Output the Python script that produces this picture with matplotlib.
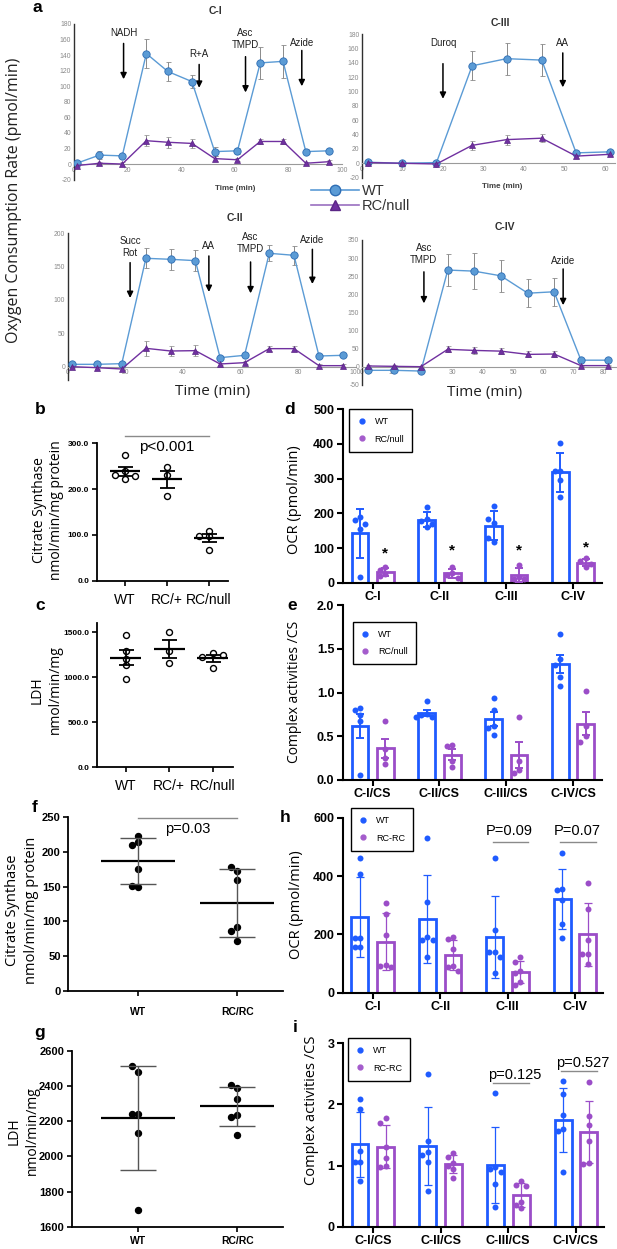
import numpy as np
import matplotlib
matplotlib.use("Agg")
import matplotlib.pyplot as plt
from matplotlib.lines import Line2D

plt.rcParams['font.family'] = ['Liberation Sans', 'DejaVu Sans']
plt.rcParams['axes.unicode_minus'] = False

W, H = 617, 1249

# ---------------- panel a : oxygen consumption traces ----------------
ci_t = [1, 9.5, 18, 27, 35, 44, 52.5, 61, 69.5, 78, 86.5, 95]
ci_wt = [1, 11.5, 10.5, 142, 119, 106, 16, 17, 130, 132, 16, 17]
ci_wt_err = [3, 5, 3, 19, 12, 8, 6, 4, 21, 21, 3, 3]
ci_rc = [-2, 1, 0, 30, 28, 26.5, 7, 5.5, 29, 29, 1, 3]
ci_rc_err = [2, 2, 2, 7, 7, 6, 3, 2, 3, 3, 2, 2]

ciii_t = [1.4, 10, 18.4, 27.2, 35.7, 44.4, 52.9, 61.3]
ciii_wt = [1.5, 0, 1, 136, 146, 144, 14.5, 16]
ciii_wt_err = [2, 2, 2, 20, 22.5, 22, 2, 2]
ciii_rc = [1, 0, -1, 25, 33, 35, 10, 12.5]
ciii_rc_err = [2, 2, 2, 6, 7, 6, 2, 2]

cii_t = [1.3, 10, 18.7, 27.1, 35.7, 44.3, 52.9, 61.4, 70, 78.6, 87.3, 95.5]
cii_wt = [3.5, 3.5, 4.5, 162.5, 161, 159, 13.5, 17, 170, 167, 16, 17]
cii_wt_err = [2, 2, 2, 15, 16, 16, 3, 3, 12, 14, 3, 3]
cii_rc = [0, -1.5, -3.5, 27.5, 23.5, 24, 4, 6, 27, 27, 1.5, 1.5]
cii_rc_err = [2, 2, 2, 11, 8, 8, 2, 2, 4, 4, 2, 2]

civ_t = [1.9, 10.7, 19.5, 28.4, 37.1, 46, 54.9, 63.6, 72.5, 81.4]
civ_wt = [-10, -10, -12, 267, 264, 251, 203, 207, 18, 18]
civ_wt_err = [3, 3, 3, 43, 50, 44, 38, 39, 3, 3]
civ_rc = [2, 1, 0, 48, 45, 43, 34, 35, 3, 3]
civ_rc_err = [3, 3, 3, 8, 9, 8, 8, 7, 2, 2]

# injections: label, x, arrow top, arrow tip, label y
ci_arrows = [("NADH", 18.5, 155, 109, 168), ("R+A", 46.7, 128, 98, 141),
             ("Asc\nTMPD", 64, 138, 92, 161), ("Azide", 85, 146, 100, 155)]
ciii_arrows = [("Duroq", 20, 139, 90, 168), ("AA", 49.6, 154, 106, 168)]
cii_arrows = [("Succ\nRot", 21.6, 156, 103, 180), ("AA", 49, 166, 112, 181),
              ("Asc\nTMPD", 63.5, 157, 110, 185), ("Azide", 85, 176, 124, 190)]
civ_arrows = [("Asc\nTMPD", 20.5, 262, 175, 311), ("Azide", 66.6, 270, 170, 292)]

# ---------------- panels b, c : CS / LDH (RC/+ cross) ----------------
b_groups = ["WT", "RC/+", "RC/null"]
b_wt = [274, 240, 221, 231, 228]
b_het = [248, 231, 185]
b_null = [109, 97, 98, 67]
c_wt = [1475, 1290, 1205, 1139, 984]
c_het = [1500, 1290, 1161]
c_null = [1265, 1230, 1250, 1100]

# ---------------- panels d, e : OCR and complex/CS ----------------
cx = ["C-I", "C-II", "C-III", "C-IV"]
cx_cs = ["C-I/CS", "C-II/CS", "C-III/CS", "C-IV/CS"]
d_wt = [[190, 181, 155, 169, 17], [217, 185, 178, 170, 160],
        [222, 173, 183, 118, 128], [402, 323, 323, 296, 246]]
d_rc = [[45, 38, 25, 18], [44, 27, 22, 14], [51, 17, 12, 10], [70, 62, 55, 45]]
d_star = [85, 92, 92, 102]
e_wt = [[0.82, 0.80, 0.74, 0.67, 0.06], [0.90, 0.76, 0.74, 0.72, 0.72],
        [0.94, 0.80, 0.62, 0.60, 0.52], [1.67, 1.38, 1.32, 1.18, 1.07]]
e_rc = [[0.67, 0.35, 0.25, 0.18], [0.40, 0.39, 0.22, 0.15],
        [0.72, 0.22, 0.12, 0.08], [1.02, 0.62, 0.50, 0.44]]

# ---------------- panels f, g : CS / LDH (RC/RC) ----------------
f_groups = ["WT", "RC/RC"]
f_wt = [223, 214, 210, 175, 149, 151]
f_rc = [173, 178, 160, 92, 86, 71]
g_wt = [2480, 2512, 2242, 2242, 2132, 1695]
g_rc = [2392, 2407, 2328, 2236, 2223, 2122]

# ---------------- panels h, i : OCR and complex/CS (RC-RC) ----------------
h_wt = [[463, 407, 186, 186, 158, 158], [531, 310, 192, 181, 181, 121],
        [463, 215, 140, 140, 121, 66], [480, 357, 352, 317, 234, 186]]
h_rc = [[306, 270, 198, 95, 90, 88], [192, 183, 149, 92, 87, 75],
        [122, 104, 75, 66, 38, 25], [375, 287, 181, 132, 132, 98]]
i_wt = [[2.085, 1.92, 1.244, 1.054, 1.054, 0.748], [2.5, 1.41, 1.22, 1.17, 1.06, 0.59],
        [2.18, 0.98, 0.95, 0.90, 0.70, 0.33], [2.38, 2.17, 1.83, 1.60, 1.57, 0.89]]
i_rc = [[1.77, 1.69, 1.30, 1.12, 1.00, 0.98], [1.21, 1.14, 1.05, 1.00, 0.95, 0.80],
        [0.74, 0.68, 0.66, 0.40, 0.35, 0.30], [2.36, 1.81, 1.67, 1.40, 1.05, 1.03]]
h_pvals = [("P=0.09", 2, 516, 555), ("P=0.07", 3, 516, 555)]
i_pvals = [("p=0.125", 2, 2.35, 2.48), ("p=0.527", 3, 2.55, 2.68)]

A_WT = '#5B9BD5'
A_RC = '#7030A0'
WT_C = '#1F5BFF'
RC_C = '#9B4DC8'

fig = plt.figure(figsize=(W / 100, H / 100), dpi=100)


def rect(l, t, r, b):
    return [l / W, 1 - b / H, (r - l) / W, (b - t) / H]


def ftext(x, y, s, **kw):
    kw.setdefault('ha', 'center')
    kw.setdefault('va', 'center')
    fig.text(x / W, 1 - y / H, s, **kw)


def swarm(vals, gap, step):
    placed, offs = [], []
    for v in vals:
        for k in [0, -1, 1, -2, 2, -3, 3]:
            if all(abs(v - pv) >= gap or k != pk for pv, pk in placed):
                break
        placed.append((v, k))
        offs.append(k * step)
    return np.array(offs)


def oxy_panel(box, t, wt, wt_err, rc, rc_err, xlim, ylim, xstep, ystep, arrows):
    ax = fig.add_axes(rect(*box))
    ax.patch.set_alpha(0)
    ax.errorbar(t, wt, yerr=wt_err, color=A_WT, lw=1.0, marker='o', ms=5.3,
                mfc=A_WT, mec='#2E6DB4', mew=0.6, ecolor='#8a8a8a',
                elinewidth=0.7, capsize=1.8, capthick=0.7, zorder=3)
    ax.errorbar(t, rc, yerr=rc_err, color=A_RC, lw=1.0, marker='^', ms=5.0,
                mfc=A_RC, mec='#5a2685', mew=0.5, ecolor='#8a8a8a',
                elinewidth=0.7, capsize=1.8, capthick=0.7, zorder=3)
    ax.set_xlim(xlim)
    ax.set_ylim(ylim)
    for s in ('top', 'right'):
        ax.spines[s].set_visible(False)
    ax.spines['bottom'].set_position(('data', 0))
    ax.spines['bottom'].set_color('#9a9a9a')
    ax.spines['left'].set_color('#303030')
    ax.spines['left'].set_linewidth(1.0)
    ax.set_xticks(np.arange(0, xlim[1] + 0.1, xstep))
    ax.set_yticks(np.arange(ylim[0], ylim[1] + 0.1, ystep))
    ax.tick_params(length=0, labelsize=4.9, labelcolor='#8a8a8a', pad=2)
    for lab, x, y0, y1, ty in arrows:
        ax.annotate('', xy=(x, y1), xytext=(x, y0),
                    arrowprops=dict(arrowstyle='-|>', color='black', lw=1.1,
                                    mutation_scale=9, shrinkA=0, shrinkB=0))
        ax.text(x, ty, lab, ha='center', va='center', fontsize=7,
                linespacing=1.25, color='#202020')
    return ax


ax_ci = oxy_panel((74, 24, 342, 179.6), ci_t, ci_wt, ci_wt_err, ci_rc, ci_rc_err,
                  (0, 100), (-20, 180), 20, 20, ci_arrows)
ax_ciii = oxy_panel((362, 34.3, 615, 177.6), ciii_t, ciii_wt, ciii_wt_err, ciii_rc, ciii_rc_err,
                    (0, 62.5), (-20, 180), 10, 20, ciii_arrows)
ax_cii = oxy_panel((68, 233.3, 355.5, 380), cii_t, cii_wt, cii_wt_err, cii_rc, cii_rc_err,
                   (0, 100), (-20, 200), 20, 50, cii_arrows)
ax_cii.set_yticks([0, 50, 100, 150, 200])
ax_civ = oxy_panel((362, 240, 615.7, 384.8), civ_t, civ_wt, civ_wt_err, civ_rc, civ_rc_err,
                   (0, 84), (-50, 350), 10, 50, civ_arrows)

ftext(215, 11, "C-I", fontsize=7.5, weight='bold', color='#303030')
ftext(500, 23, "C-III", fontsize=7.5, weight='bold', color='#303030')
ftext(235, 218, "C-II", fontsize=7.5, weight='bold', color='#303030')
ftext(505, 227, "C-IV", fontsize=7.5, weight='bold', color='#303030')
ftext(235, 189, "Time (min)", fontsize=5.8, weight='bold', color='#404040')
ftext(502, 187, "Time (min)", fontsize=5.8, weight='bold', color='#404040')
ftext(213, 392, "Time (min)", fontsize=11, family='Open Sans', color='#202020')
ftext(485, 393, "Time (min)", fontsize=11, family='Open Sans', color='#202020')
ftext(14, 200, "Oxygen Consumption Rate (pmol/min)", fontsize=11.5, rotation=90,
      family='Open Sans', color='#202020')

h_wt_leg = Line2D([], [], color=A_WT, lw=1.2, marker='o', ms=7.5, mfc=A_WT, mec='#2E6DB4')
h_rc_leg = Line2D([], [], color='#9a70c0', lw=1.2, marker='^', ms=7.5, mfc=A_RC, mec='#5a2685')
leg_a = fig.legend([h_wt_leg, h_rc_leg], ["WT", "RC/null"], loc='upper left',
                   bbox_to_anchor=(311 / W, 1 - 184 / H), frameon=False, fontsize=10.5,
                   handlelength=3.3, handletextpad=0.2, labelspacing=0.05,
                   borderaxespad=0, borderpad=0)
for t in leg_a.get_texts():
    t.set_color('#333333')


# ---------------- scatter panels ----------------
def dot_panel(box, groups, names, xlim, ylim, yticks, ylabels, err, hollow,
              mean_half, cap_pt, gap, step, tick_fs, xlab_fs, xbold, ecol, elw, xpad):
    ax = fig.add_axes(rect(*box))
    for i, vals in enumerate(groups):
        v = np.array(vals, float)
        x = i + 1
        m = v.mean()
        e = v.std(ddof=1) if err == 'sd' else v.std(ddof=1) / np.sqrt(len(v))
        ax.plot(x + swarm(v, gap, step), v, 'o', ms=4.3,
                mfc='none' if hollow else 'black', mec='black', mew=1.0, zorder=3)
        ax.hlines(m, x - mean_half, x + mean_half, color='black', lw=1.6, zorder=4)
        ax.errorbar(x, m, yerr=e, color=ecol, lw=elw, capsize=cap_pt, capthick=elw, zorder=4)
    ax.set_xlim(xlim)
    ax.set_ylim(ylim)
    for s in ('top', 'right'):
        ax.spines[s].set_visible(False)
    for s in ('left', 'bottom'):
        ax.spines[s].set_linewidth(1.3)
    ax.set_yticks(yticks)
    ax.set_yticklabels(ylabels, fontsize=tick_fs, weight='bold')
    ax.set_xticks(range(1, len(groups) + 1))
    ax.set_xticklabels(names, fontsize=xlab_fs, weight='bold' if xbold else 'normal')
    ax.tick_params(direction='out', length=3.5, width=1.2, pad=2)
    ax.tick_params(axis='x', pad=xpad)
    return ax


ax_b = dot_panel((96.7, 443.3, 228, 580.7), [b_wt, b_het, b_null], b_groups, (0.33, 3.45),
                 (0, 300), [0, 100, 200, 300], ["0.0", "100.0", "200.0", "300.0"], 'sem', True,
                 0.36, 5.4, 11, 0.24, 6, 10, False, 'black', 1.3, 5)
ax_b.plot([1, 3], [316, 316], color='#8a8a8a', lw=1, clip_on=False)
ax_b.text(2, 292, "p<0.001", ha='center', va='center', fontsize=11)

ax_c = dot_panel((96.7, 623.3, 233, 767.3), [c_wt, c_het, c_null], b_groups, (0.33, 3.47),
                 (0, 1600), [0, 500, 1000, 1500], ["0.0", "500.0", "1000.0", "1500.0"], 'sem', True,
                 0.36, 5.4, 60, 0.24, 6, 10, False, 'black', 1.3, 5)

ax_f = dot_panel((68.3, 817.3, 283.3, 990.7), [f_wt, f_rc], f_groups, (0.293, 2.465),
                 (0, 250), [0, 50, 100, 150, 200, 250], ["0", "50", "100", "150", "200", "250"], 'sd', False,
                 0.374, 13, 8.5, 0.063, 8, 7.5, True, '#555555', 1.0, 8)
ax_f.plot([1, 2], [249, 249], color='#8a8a8a', lw=1, clip_on=False)
ax_f.text(1.5, 232.6, "p=0.03", ha='center', va='center', fontsize=10.5)

ax_g = dot_panel((71.7, 1051, 283.3, 1226.7), [g_wt, g_rc], f_groups, (0.327, 2.465),
                 (1600, 2600), [1600, 1800, 2000, 2200, 2400, 2600],
                 ["1600", "1800", "2000", "2200", "2400", "2600"], 'sd', False,
                 0.374, 13, 34, 0.063, 8, 7.5, True, '#555555', 1.0, 3)


# ---------------- bar panels ----------------
def bar_panel(box, wt_groups, rc_groups, names, xlim, ylim, yticks, ylabels, err,
              leg_labels, leg_pos, gap, elw):
    ax = fig.add_axes(rect(*box))
    for i in range(len(names)):
        for vals, off, col in ((wt_groups[i], -0.19, WT_C), (rc_groups[i], 0.19, RC_C)):
            v = np.array(vals, float)
            m = v.mean()
            e = v.std(ddof=1) if err == 'sd' else v.std(ddof=1) / np.sqrt(len(v))
            ax.bar(i + off, m, width=0.25, facecolor='none', edgecolor=col, lw=2.0, zorder=2)
            ax.errorbar(i + off, m, yerr=e, color=col, lw=elw, capsize=3, capthick=elw, zorder=3)
            ax.plot(i + off + swarm(v, gap, 0.08), v, 'o', color=col, ms=4.3,
                    mec='none', zorder=4)
    ax.set_xlim(xlim)
    ax.set_ylim(ylim)
    for s in ('top', 'right'):
        ax.spines[s].set_visible(False)
    for s in ('left', 'bottom'):
        ax.spines[s].set_linewidth(1.5)
    ax.set_yticks(yticks)
    ax.set_yticklabels(ylabels, fontsize=9, weight='bold')
    ax.set_xticks(range(len(names)))
    ax.set_xticklabels(names, fontsize=9, weight='bold')
    ax.tick_params(direction='out', length=4, width=1.5, pad=2)
    handles = [Line2D([], [], ls='none', marker='o', color=WT_C, ms=3.5),
               Line2D([], [], ls='none', marker='o', color='#a45ccc', ms=3.5)]
    leg = ax.legend(handles, leg_labels, loc='upper left',
                    bbox_to_anchor=(leg_pos[0] / W, 1 - leg_pos[1] / H),
                    bbox_transform=fig.transFigure, borderaxespad=0, fancybox=False,
                    edgecolor='black', fontsize=6.5, handlelength=1, handletextpad=0.9,
                    borderpad=0.9, labelspacing=0.9, framealpha=1)
    leg.get_frame().set_linewidth(1.0)
    return ax


ax_d = bar_panel((342.7, 409.3, 601.7, 582.7), d_wt, d_rc, cx, (-0.45, 3.43), (0, 500),
                 [0, 100, 200, 300, 400, 500], ["0", "100", "200", "300", "400", "500"], 'sd',
                 ["WT", "RC/null"], (349.3, 409.3), 17, 1.4)
for i, y in enumerate(d_star):
    ax_d.text(i + 0.19, y, "*", ha='center', va='center', fontsize=11, weight='bold')

ax_e = bar_panel((342.7, 605, 601.7, 780), e_wt, e_rc, cx_cs, (-0.45, 3.43), (0, 2.0),
                 [0, 0.5, 1.0, 1.5, 2.0], ["0.0", "0.5", "1.0", "1.5", "2.0"], 'sem',
                 ["WT", "RC/null"], (352.7, 621.7), 0.069, 1.4)

ax_h = bar_panel((342.7, 817.7, 603, 992.7), h_wt, h_rc, cx, (-0.445, 3.415), (0, 600),
                 [0, 200, 400, 600], ["0", "200", "400", "600"], 'sd',
                 ["WT", "RC-RC"], (350.7, 808.3), 20.6, 0.9)
for lab, i, yl, yt in h_pvals:
    ax_h.plot([i - 0.22, i + 0.31], [yl, yl], color='#8a8a8a', lw=1)
    ax_h.text(i + 0.03, yt, lab, ha='center', va='center', fontsize=10.5)

ax_i = bar_panel((342.7, 1043.3, 604, 1226.7), i_wt, i_rc, cx_cs, (-0.445, 3.415), (0, 3),
                 [0, 1, 2, 3], ["0", "1", "2", "3"], 'sd',
                 ["WT", "RC-RC"], (347.7, 1038.3), 0.098, 0.9)
for lab, i, yl, yt in i_pvals:
    ax_i.plot([i - 0.22, i + 0.31], [yl, yl], color='#8a8a8a', lw=1)
    ax_i.text(i + 0.1, yt, lab, ha='center', va='center', fontsize=10.5)

# axis titles
ftext(48, 510, "Citrate Synthase\nnmol/min/mg protein", rotation=90, fontsize=10,
      family='Open Sans', linespacing=1.25)
ftext(46, 690, "LDH\nnmol/min/mg", rotation=90, fontsize=10, family='Open Sans',
      linespacing=1.25)
ftext(22, 910, "Citrate Synthase\nnmol/min/mg protein", rotation=90, fontsize=10.5,
      family='Open Sans', linespacing=1.3)
ftext(23, 1131, "LDH\nnmol/min/mg", rotation=90, fontsize=10, family='Open Sans',
      linespacing=1.3)
ftext(295, 500, "OCR (pmol/min)", rotation=90, fontsize=10.5, family='Open Sans')
ftext(295, 692, "Complex activities /CS", rotation=90, fontsize=10, family='Open Sans')
ftext(297, 905, "OCR (pmol/min)", rotation=90, fontsize=10.5, family='Open Sans')
ftext(312, 1110, "Complex activities /CS", rotation=90, fontsize=10.5, family='Open Sans')

# panel letters
for lab, x, y in [("a", 37, 7), ("b", 40, 410), ("d", 290, 410), ("c", 40, 605),
                  ("e", 292, 605), ("f", 35, 807), ("h", 285, 818), ("g", 40, 1032),
                  ("i", 295, 1028)]:
    ftext(x, y, lab, fontsize=12.5, weight='bold')

fig.savefig("out.png", dpi=100)
